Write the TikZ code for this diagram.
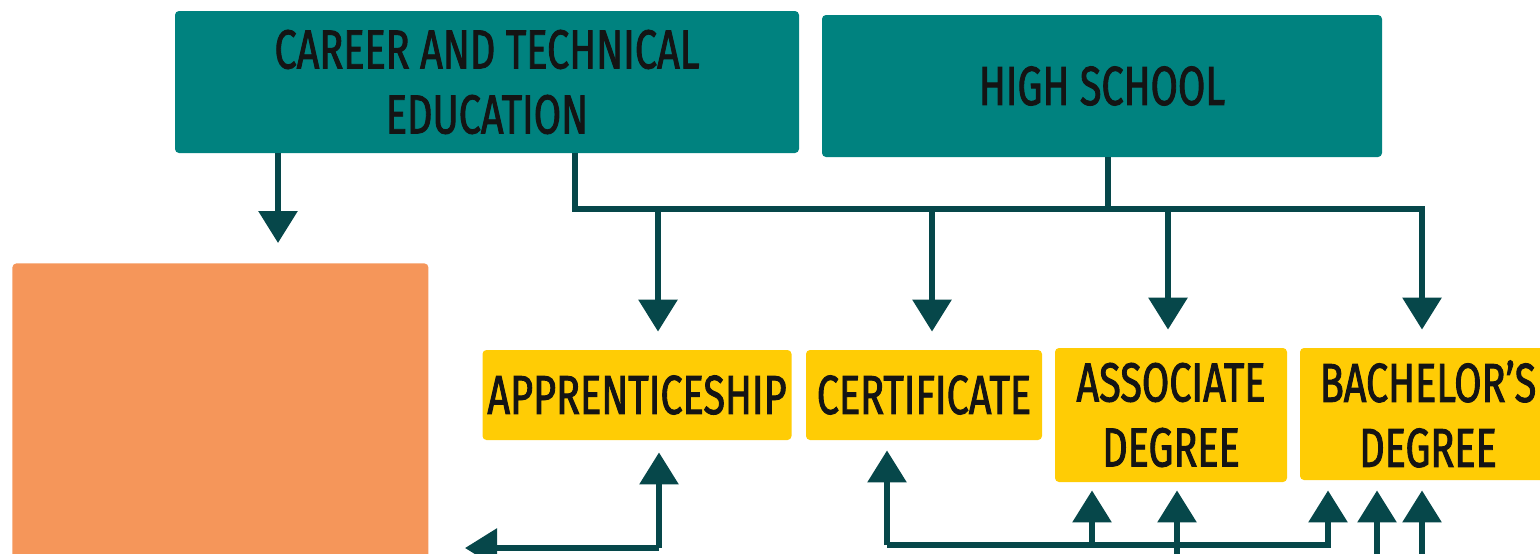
\documentclass[tikz,border=0pt]{standalone}
\usepackage{fontspec}
\newfontfamily\boxfont[FakeStretch=0.72, FakeBold=1.6]{Fira Sans}
\usetikzlibrary{arrows.meta}
\definecolor{cteteal}{HTML}{00827F}
\definecolor{pathorange}{HTML}{F5965A}
\definecolor{degyellow}{HTML}{FFCC05}
\definecolor{ink}{HTML}{06474A}
\tikzset{
    block/.style = {rectangle, rounded corners=2pt, inner sep=0pt,
        align=center, text=black!92,
        font=\boxfont\fontsize{27.5}{32.5}\selectfont},
    topblock/.style = {block, fill=cteteal, minimum height=71pt},
    degree/.style = {block, fill=degyellow},
    pathblock/.style = {rectangle, fill=pathorange, rounded corners=2pt},
    link/.style = {draw=ink, line width=3pt},
    arrow/.style = {link, -{Triangle[width=19pt,length=16pt]}}
}

\begin{document}
\begin{tikzpicture}[x=0.5pt, y=-0.5pt]
        \useasboundingbox (0,0) rectangle (1540,553);
        \clip (0,0) rectangle (1540,553);
        % top row
        \node [topblock, minimum width=312pt] (cte) at (487,82) {CAREER AND TECHNICAL\\EDUCATION};
        \node [topblock, minimum width=280pt] (hs) at (1102,86) {HIGH SCHOOL};
        \node [pathblock, anchor=north west, minimum width=208pt, minimum height=170pt] (pathway) at (12,263) {};
        % degrees
        \node [degree, minimum width=154.5pt, minimum height=45pt] (appr) at (637,395) {APPRENTICESHIP};
        \node [degree, minimum width=118pt, minimum height=45pt] (cert) at (924,395) {CERTIFICATE};
        \node [degree, minimum width=116pt, minimum height=67pt] (assoc) at (1171,415) {ASSOCIATE\\DEGREE};
        \node [degree, minimum width=128pt, minimum height=66pt] (bach) at (1428,414) {BACHELOR’S\\DEGREE};
        % bus from the top boxes
        \coordinate (ctedown) at (278,243);
        \coordinate (busl) at (575,209);
        \coordinate (busr) at (1422,209);
        \coordinate (hsdrop) at (1108,209);
        \draw [arrow] (cte.south -| ctedown) -- (ctedown);
        \draw [arrow, shorten >=9pt] (cte.south -| busl) -- (busl) -- (busr) -- (busr |- bach.north);
        \draw [link] (hs.south -| hsdrop) -- (hsdrop);
        \foreach \x/\t in {658/appr, 932/cert, 1168/assoc} {
            \coordinate (d\t) at (\x,209);
            \draw [arrow, shorten >=9pt] (d\t) -- (d\t |- \t.north);
        }
        % feedback from below
        \coordinate (ja) at (659,548);
        \coordinate (jal) at (465,548);
        \draw [arrow] (ja) -- (jal);
        \draw [arrow, shorten >=6pt] (ja) -- (ja |- appr.south);
        \coordinate (jc) at (887,545);
        \coordinate (jb) at (1328,545);
        \draw [arrow, shorten >=5pt] (jc) -- (jc |- cert.south);
        \draw [arrow, shorten >=5pt] (jc) -- (jb) -- (jb |- bach.south);
        \coordinate (ja1) at (1092,545);
        \draw [arrow, shorten >=4pt] (ja1) -- (ja1 |- assoc.south);
        \coordinate (ja2) at (1177,565);
        \draw [arrow, shorten >=4pt] (ja2) -- (ja2 |- assoc.south);
        \foreach \x in {1377,1422} {
            \coordinate (jb\x) at (\x,565);
            \draw [arrow, shorten >=5pt] (jb\x) -- (jb\x |- bach.south);
        }
\end{tikzpicture}
\end{document}
